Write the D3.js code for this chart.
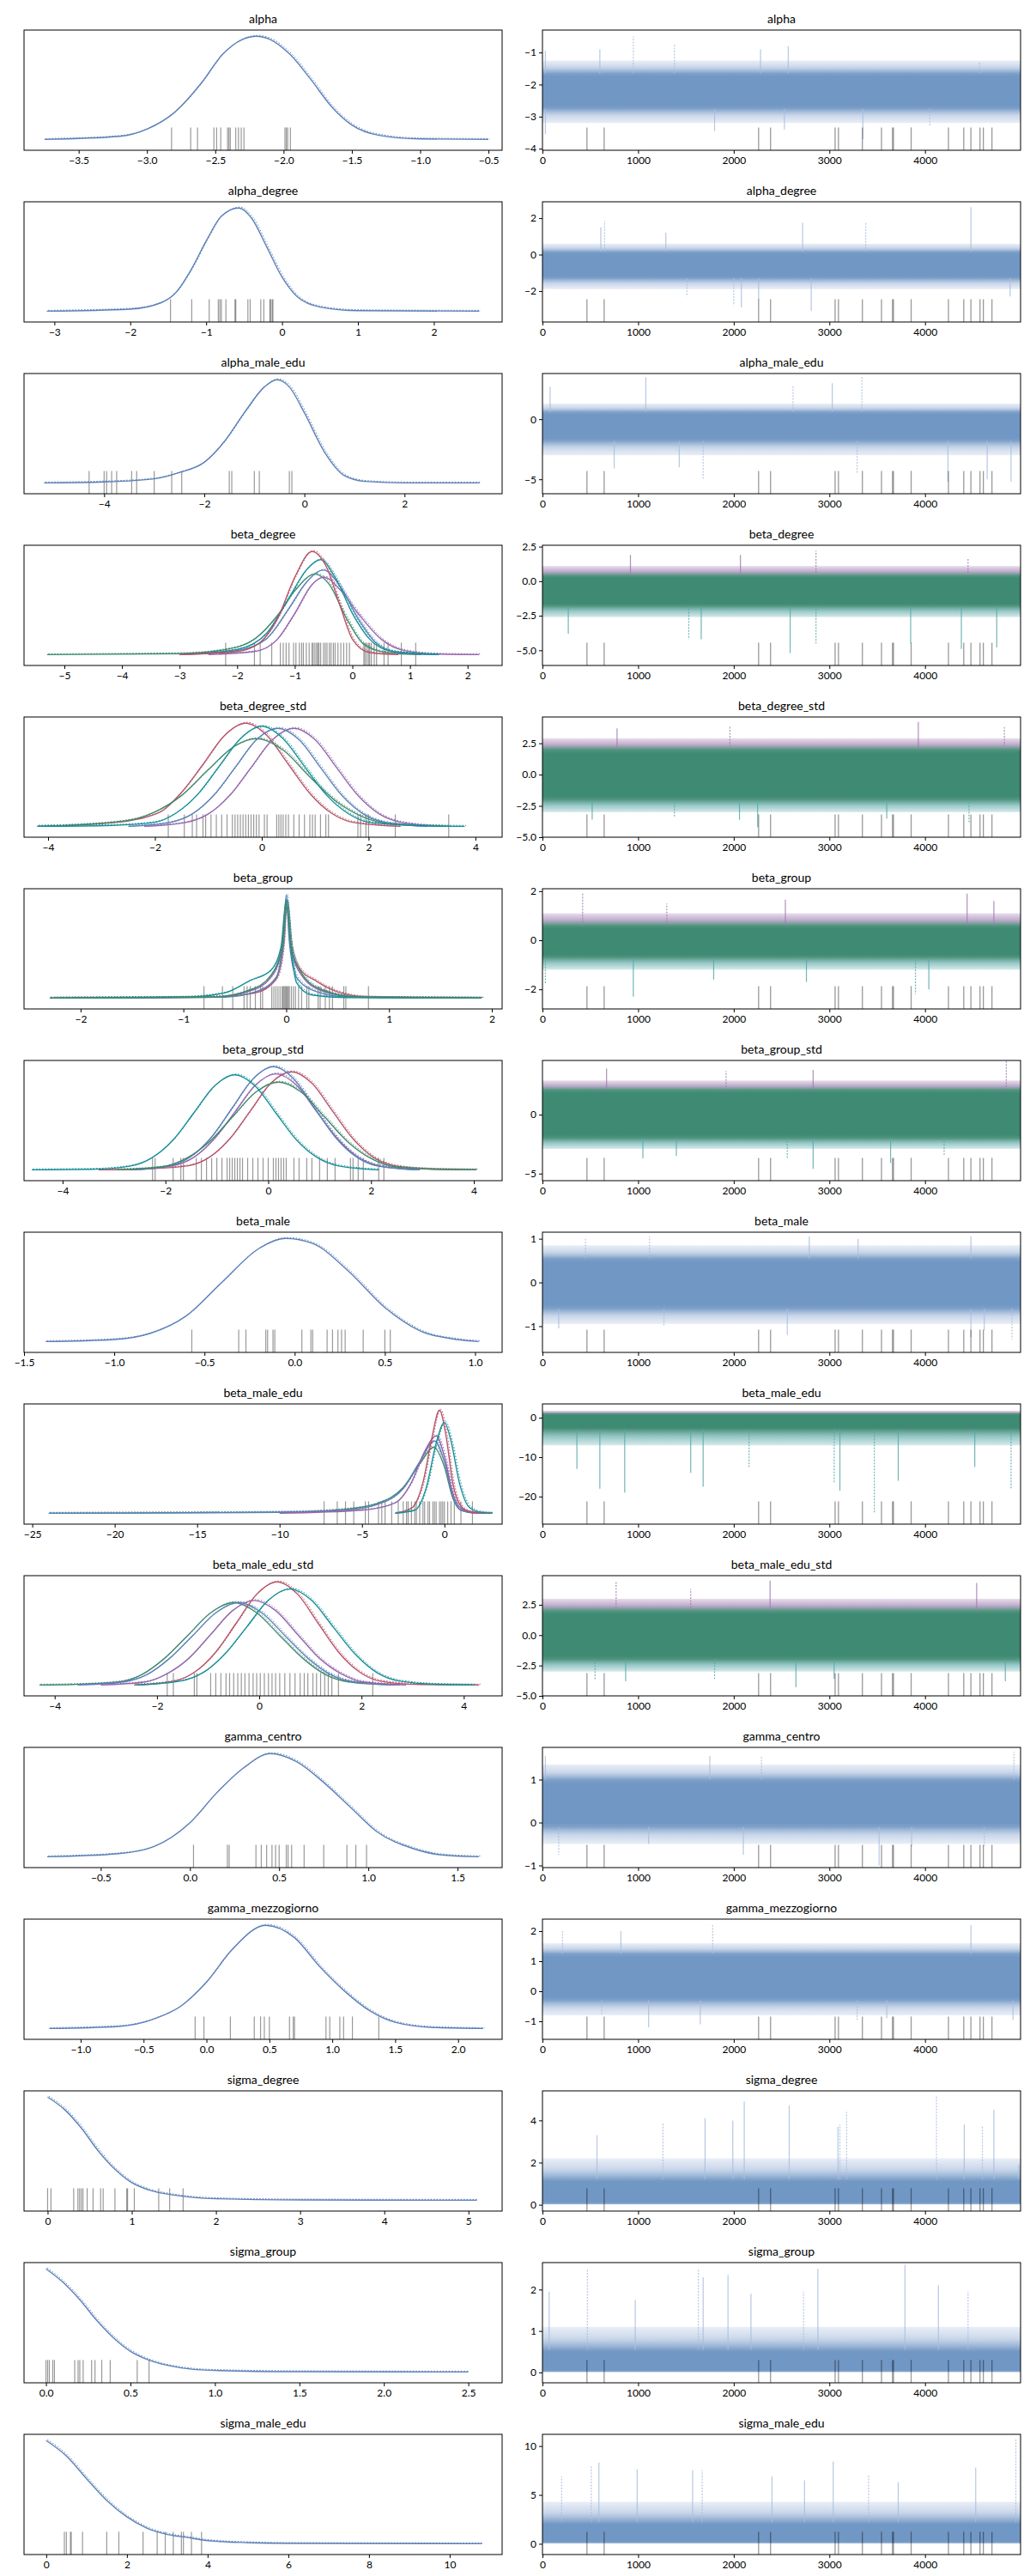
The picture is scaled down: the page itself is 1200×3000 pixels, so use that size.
<!DOCTYPE html>
<html>
<head>
<meta charset="utf-8">
<script src="https://cdn.jsdelivr.net/npm/d3@7"></script>
<style>
  body { margin: 0; background: #fff; }
  text { font-family: Lato, "Open Sans", sans-serif; }
</style>
</head>
<body>
<svg id="chart" width="1200" height="3000"></svg>
<script>
// ---- data ---------------------------------------------------------------
const names = ["alpha", "alpha_degree", "alpha_male_edu", "beta_degree", "beta_degree_std",
  "beta_group", "beta_group_std", "beta_male", "beta_male_edu", "beta_male_edu_std",
  "gamma_centro", "gamma_mezzogiorno", "sigma_degree", "sigma_group", "sigma_male_edu"];

const kdeDomains = [[-3.9, -0.4], [-3.4, 2.9], [-5.6, 3.95], [-5.7, 2.6], [-4.45, 4.5],
  [-2.55, 2.1], [-4.75, 4.55], [-1.5, 1.15], [-25.5, 3.5], [-4.6, 4.75],
  [-0.93, 1.75], [-1.45, 2.35], [-0.28, 5.4], [-0.13, 2.7], [-0.55, 11.3]];
const kdeTicks = [[-3.5, -3, -2.5, -2, -1.5, -1, -0.5], [-3, -2, -1, 0, 1, 2], [-4, -2, 0, 2],
  [-5, -4, -3, -2, -1, 0, 1, 2], [-4, -2, 0, 2, 4], [-2, -1, 0, 1, 2], [-4, -2, 0, 2, 4],
  [-1.5, -1, -0.5, 0, 0.5, 1], [-25, -20, -15, -10, -5, 0], [-4, -2, 0, 2, 4],
  [-0.5, 0, 0.5, 1, 1.5], [-1, -0.5, 0, 0.5, 1, 1.5, 2], [0, 1, 2, 3, 4, 5],
  [0, 0.5, 1, 1.5, 2, 2.5], [0, 2, 4, 6, 8, 10]];
const kdeDecimals = [1, 0, 0, 0, 0, 0, 0, 1, 0, 0, 1, 1, 0, 1, 0];

const colors = { B: "#5b80b8", R: "#b5546a", P: "#9467ad", T: "#178f98", G: "#3f8a6c" };

// relative density curves: [key of colour, [[x, y], ...]]
const kdeCurves = [
  [["B", [[-3.75,0],[-3.2,0.03],[-3,0.1],[-2.8,0.26],[-2.6,0.55],[-2.45,0.82],[-2.3,0.97],[-2.2,1],[-2.1,0.97],[-1.95,0.82],[-1.8,0.58],[-1.65,0.32],[-1.5,0.14],[-1.3,0.04],[-1.0,0.005],[-0.5,0]]]],
  [["B", [[-3.1,0],[-2,0.02],[-1.6,0.08],[-1.4,0.18],[-1.2,0.4],[-1.0,0.68],[-0.8,0.92],[-0.57,1],[-0.4,0.9],[-0.2,0.62],[0,0.33],[0.2,0.14],[0.5,0.04],[1,0.005],[2.6,0]]]],
  [["B", [[-5.2,0],[-4,0.01],[-3,0.04],[-2.5,0.1],[-2,0.2],[-1.6,0.4],[-1.2,0.68],[-0.8,0.93],[-0.55,1],[-0.3,0.93],[0,0.68],[0.4,0.3],[0.8,0.07],[1.2,0.015],[2,0],[3.5,0]]]],
  [["G", [[-5.3,0],[-3,0.01],[-2.2,0.05],[-1.7,0.15],[-1.3,0.38],[-1.0,0.62],[-0.65,0.78],[-0.4,0.68],[-0.1,0.35],[0.2,0.1],[0.6,0.02],[1.2,0]]],
   ["P", [[-2.5,0],[-1.7,0.03],[-1.3,0.15],[-1.0,0.4],[-0.7,0.68],[-0.5,0.75],[-0.2,0.62],[0.1,0.4],[0.5,0.15],[0.9,0.04],[1.5,0.005],[2.2,0]]],
   ["B", [[-3,0],[-2,0.04],[-1.5,0.15],[-1.1,0.45],[-0.8,0.7],[-0.5,0.82],[-0.2,0.65],[0.1,0.35],[0.4,0.12],[0.8,0.02],[1.5,0]]],
   ["T", [[-3,0],[-2,0.05],[-1.5,0.2],[-1.1,0.55],[-0.8,0.82],[-0.55,0.92],[-0.3,0.75],[0,0.4],[0.3,0.15],[0.7,0.03],[1.5,0]]],
   ["R", [[-3,0],[-2,0.03],[-1.6,0.12],[-1.3,0.35],[-1.0,0.75],[-0.7,1],[-0.45,0.85],[-0.2,0.45],[0,0.15],[0.3,0.02],[0.8,0]]]],
  [["R", [[-4.2,0],[-2.7,0.04],[-1.9,0.14],[-1.5,0.33],[-1.1,0.6],[-0.7,0.88],[-0.3,1],[0.1,0.88],[0.5,0.6],[0.9,0.32],[1.3,0.13],[1.7,0.04],[2.6,0]]],
   ["G", [[-4.2,0],[-2.6,0.05],[-2,0.14],[-1.5,0.3],[-1.0,0.55],[-0.5,0.78],[-0.1,0.85],[0.4,0.74],[0.9,0.48],[1.4,0.24],[1.9,0.09],[2.5,0.02],[3.5,0]]],
   ["P", [[-2.2,0],[-1.4,0.04],[-1,0.12],[-0.6,0.3],[-0.2,0.57],[0.2,0.84],[0.6,0.95],[1.0,0.84],[1.4,0.57],[1.8,0.3],[2.2,0.12],[2.6,0.04],[3.4,0]]],
   ["B", [[-2.5,0],[-1.7,0.04],[-1.3,0.12],[-0.9,0.3],[-0.5,0.57],[-0.1,0.84],[0.3,0.95],[0.7,0.84],[1.1,0.57],[1.5,0.3],[1.9,0.12],[2.3,0.04],[3.1,0]]],
   ["T", [[-4.2,0],[-2.8,0.01],[-2,0.04],[-1.6,0.13],[-1.2,0.31],[-0.8,0.58],[-0.4,0.85],[0,0.97],[0.4,0.85],[0.8,0.58],[1.2,0.31],[1.6,0.13],[2,0.04],[2.8,0.01],[3.8,0]]]],
  [["R", [[-2.3,0],[-0.7,0.01],[-0.3,0.05],[-0.1,0.18],[-0.03,0.5],[0,0.93],[0.04,0.55],[0.12,0.3],[0.3,0.16],[0.5,0.06],[0.8,0.01],[1.9,0]]],
   ["P", [[-2.3,0],[-0.7,0.01],[-0.35,0.07],[-0.15,0.2],[-0.04,0.48],[0,0.94],[0.05,0.48],[0.15,0.22],[0.35,0.07],[0.7,0.01],[1.9,0]]],
   ["B", [[-2.3,0],[-0.6,0.01],[-0.3,0.06],[-0.1,0.2],[-0.03,0.55],[0,1],[0.03,0.55],[0.1,0.2],[0.3,0.06],[0.6,0.01],[1.9,0]]],
   ["T", [[-2.25,0],[-1,0.01],[-0.6,0.05],[-0.35,0.17],[-0.15,0.27],[-0.05,0.5],[0,0.95],[0.05,0.45],[0.1,0.15],[0.25,0.03],[0.6,0.005],[1.9,0]]],
   ["G", [[-2.3,0],[-0.7,0.01],[-0.35,0.08],[-0.15,0.22],[-0.04,0.5],[0,0.94],[0.05,0.5],[0.15,0.24],[0.35,0.08],[0.7,0.01],[1.9,0]]]],
  [["R", [[-3.3,0],[-2.35,0.01],[-1.55,0.04],[-1.15,0.12],[-0.75,0.3],[-0.35,0.57],[0.05,0.84],[0.45,0.95],[0.85,0.84],[1.25,0.57],[1.65,0.3],[2.05,0.12],[2.45,0.04],[3.25,0.005],[4.05,0]]],
   ["P", [[-2.65,0],[-1.85,0.04],[-1.45,0.12],[-1.05,0.3],[-0.65,0.56],[-0.25,0.82],[0.15,0.93],[0.55,0.82],[0.95,0.56],[1.35,0.3],[1.75,0.12],[2.15,0.04],[2.95,0]]],
   ["B", [[-2.7,0],[-1.9,0.04],[-1.5,0.13],[-1.1,0.32],[-0.7,0.6],[-0.3,0.88],[0.1,1],[0.5,0.88],[0.9,0.6],[1.3,0.32],[1.7,0.13],[2.1,0.04],[2.9,0]]],
   ["G", [[-2.95,0],[-2.05,0.03],[-1.6,0.11],[-1.15,0.27],[-0.7,0.51],[-0.25,0.75],[0.2,0.85],[0.65,0.75],[1.1,0.51],[1.55,0.27],[2.0,0.11],[2.45,0.03],[3.35,0.005],[4.05,0]]],
   ["T", [[-4.6,0],[-3.45,0.005],[-2.65,0.04],[-2.25,0.12],[-1.85,0.29],[-1.45,0.55],[-1.05,0.81],[-0.65,0.92],[-0.25,0.81],[0.15,0.55],[0.55,0.29],[0.95,0.12],[1.35,0.04],[2.15,0]]]],
  [["B", [[-1.38,0],[-1.0,0.02],[-0.8,0.08],[-0.6,0.25],[-0.4,0.58],[-0.2,0.9],[-0.05,1],[0.1,0.95],[0.3,0.68],[0.5,0.33],[0.7,0.1],[0.9,0.02],[1.02,0]]]],
  [["G", [[-24,0],[-10,0.01],[-6,0.04],[-4,0.1],[-2.5,0.25],[-1.5,0.48],[-0.65,0.64],[0,0.45],[0.5,0.15],[1,0.03],[2,0],[2.9,0]]],
   ["B", [[-24,0],[-10,0.01],[-6,0.03],[-4,0.09],[-2.5,0.24],[-1.5,0.5],[-0.6,0.7],[0,0.5],[0.5,0.17],[1,0.03],[2,0]]],
   ["P", [[-10,0],[-5,0.03],[-3,0.1],[-2,0.3],[-1.2,0.6],[-0.5,0.75],[0,0.55],[0.5,0.2],[1,0.05],[2,0]]],
   ["R", [[-3,0],[-2,0.05],[-1.3,0.3],[-0.8,0.7],[-0.3,1],[0.1,0.75],[0.5,0.3],[1,0.07],[1.6,0.01],[2.8,0]]],
   ["T", [[-3,0],[-1.8,0.03],[-1.1,0.25],[-0.5,0.68],[0,0.88],[0.4,0.7],[0.9,0.3],[1.5,0.06],[2.2,0.01],[2.9,0]]]],
  [["G", [[-4.3,0],[-3.65,0.005],[-2.75,0.03],[-2.3,0.1],[-1.85,0.26],[-1.4,0.48],[-0.95,0.7],[-0.5,0.8],[-0.05,0.7],[0.4,0.48],[0.85,0.26],[1.3,0.1],[1.75,0.03],[2.65,0]]],
   ["B", [[-3.55,0],[-2.65,0.03],[-2.2,0.1],[-1.75,0.26],[-1.3,0.48],[-0.85,0.7],[-0.4,0.8],[0.05,0.7],[0.5,0.48],[0.95,0.26],[1.4,0.1],[1.85,0.03],[2.75,0]]],
   ["P", [[-3.1,0],[-2.225,0.03],[-1.8,0.11],[-1.375,0.26],[-0.95,0.49],[-0.525,0.72],[-0.1,0.82],[0.325,0.72],[0.75,0.49],[1.175,0.26],[1.6,0.11],[2.025,0.03],[2.875,0]]],
   ["R", [[-2.45,0],[-1.65,0.04],[-1.25,0.13],[-0.85,0.32],[-0.45,0.6],[-0.05,0.88],[0.35,1],[0.75,0.88],[1.15,0.6],[1.55,0.32],[1.95,0.13],[2.35,0.04],[3.15,0.005],[4.3,0]]],
   ["T", [[-2.4,0],[-1.525,0.04],[-1.1,0.12],[-0.675,0.3],[-0.25,0.56],[0.175,0.82],[0.6,0.93],[1.025,0.82],[1.45,0.56],[1.875,0.3],[2.3,0.12],[2.725,0.04],[3.575,0.005],[4.2,0]]]],
  [["B", [[-0.8,0],[-0.4,0.03],[-0.2,0.1],[0,0.33],[0.15,0.62],[0.3,0.86],[0.45,1],[0.6,0.92],[0.75,0.72],[0.9,0.48],[1.05,0.24],[1.25,0.08],[1.4,0.02],[1.62,0]]]],
  [["B", [[-1.25,0],[-0.7,0.02],[-0.4,0.1],[-0.2,0.22],[0,0.45],[0.2,0.76],[0.47,1],[0.7,0.88],[0.9,0.6],[1.1,0.36],[1.3,0.17],[1.5,0.06],[1.8,0.01],[2.2,0]]]],
  [["B", [[0,1],[0.2,0.88],[0.4,0.7],[0.6,0.48],[0.8,0.3],[1.0,0.17],[1.2,0.1],[1.5,0.05],[2,0.015],[3,0.003],[5.1,0]]]],
  [["B", [[0,1],[0.1,0.87],[0.2,0.7],[0.3,0.5],[0.4,0.33],[0.5,0.2],[0.6,0.12],[0.8,0.04],[1.0,0.015],[1.5,0.003],[2.5,0]]]],
  [["B", [[0,1],[0.5,0.85],[1,0.63],[1.5,0.42],[2,0.26],[2.5,0.15],[3,0.09],[3.5,0.06],[4,0.03],[5,0.01],[6,0.003],[10.8,0]]]]
];

const kdeRugs = [
  [-2.82,-2.68,-2.63,-2.51,-2.49,-2.46,-2.41,-2.40,-2.39,-2.35,-2.33,-2.31,-2.29,-1.99,-1.98,-1.97,-1.95],
  [-1.47,-1.19,-0.96,-0.84,-0.82,-0.8,-0.74,-0.62,-0.61,-0.45,-0.42,-0.28,-0.24,-0.16,-0.15,-0.13,-0.12],
  [-4.3,-4.0,-3.95,-3.85,-3.75,-3.45,-3.35,-3.0,-2.65,-2.45,-1.5,-1.45,-1.0,-0.9,-0.3,-0.25],
  [-2.2,-1.7,-1.6,-1.4,-1.25,-1.2,-1.15,-1.1,-1.02,-0.98,-0.92,-0.88,-0.85,-0.8,-0.75,-0.7,-0.68,-0.65,-0.62,-0.6,-0.58,-0.55,-0.5,-0.47,-0.44,-0.4,-0.37,-0.33,-0.3,-0.25,-0.2,-0.15,-0.1,-0.05,0.2,0.22,0.25,0.28,0.3,0.33,0.38,0.42,0.55,0.62,0.85,1.1],
  [-1.75,-1.45,-1.3,-1.22,-1.1,-1.05,-0.95,-0.85,-0.75,-0.65,-0.55,-0.5,-0.45,-0.4,-0.35,-0.3,-0.25,-0.2,-0.15,-0.1,-0.05,0.05,0.1,0.28,0.32,0.36,0.4,0.45,0.5,0.6,0.7,0.8,0.9,0.95,1.0,1.1,1.2,1.25,1.8,1.85,1.95,2.0,2.5,3.5],
  [-0.8,-0.62,-0.52,-0.41,-0.38,-0.35,-0.3,-0.25,-0.23,-0.14,-0.12,-0.1,-0.08,-0.06,-0.04,-0.03,-0.02,-0.01,0,0.01,0.02,0.03,0.05,0.07,0.09,0.12,0.15,0.2,0.22,0.31,0.33,0.38,0.42,0.45,0.56,0.58,0.8],
  [-2.25,-2.2,-1.85,-1.7,-1.65,-1.4,-1.3,-1.2,-1.1,-1.0,-0.9,-0.8,-0.75,-0.7,-0.65,-0.6,-0.55,-0.5,-0.4,-0.3,-0.2,-0.1,0,0.1,0.15,0.2,0.25,0.3,0.35,0.5,0.6,0.75,0.85,1.0,1.15,1.3,1.6,1.65,1.75,1.85,2.15,2.25],
  [-0.57,-0.31,-0.27,-0.16,-0.15,-0.12,-0.11,0.04,0.09,0.1,0.18,0.21,0.24,0.26,0.28,0.38,0.5,0.53],
  [-7.3,-6.5,-6.0,-5.5,-4.8,-4.6,-4,-3.8,-3.6,-3.2,-2.8,-2.5,-2.3,-2.2,-2.0,-1.8,-1.7,-1.5,-1.3,-1.2,-1.0,-0.9,-0.7,-0.6,-0.5,-0.3,-0.2,-0.1,0.0,0.2,0.4,0.6,1.0,1.7],
  [-1.8,-1.68,-1.27,-1.22,-0.95,-0.85,-0.75,-0.65,-0.58,-0.5,-0.42,-0.35,-0.28,-0.2,-0.12,-0.05,0.02,0.1,0.18,0.25,0.32,0.4,0.5,0.6,0.7,0.8,0.88,0.95,1.05,1.12,1.2,1.28,1.35,1.42,1.55,2.22],
  [0.02,0.21,0.22,0.37,0.4,0.43,0.46,0.48,0.5,0.54,0.55,0.57,0.64,0.75,0.88,0.93,0.99],
  [-0.09,-0.02,0.19,0.38,0.43,0.46,0.5,0.66,0.69,0.7,0.95,0.98,1.06,1.09,1.16,1.37],
  [0,0.04,0.31,0.36,0.38,0.4,0.42,0.47,0.54,0.63,0.66,0.8,0.94,0.95,1.03,1.32,1.45,1.61],
  [0.0,0.01,0.02,0.04,0.05,0.17,0.19,0.2,0.22,0.27,0.29,0.33,0.38,0.54,0.61],
  [0.45,0.5,0.6,0.62,0.9,1.5,1.8,2.4,2.75,2.95,3.15,3.35,3.4,3.6,3.85]
];

const iterTicks = [0, 1000, 2000, 3000, 4000];
const divergences = [465, 645, 2260, 2385, 3060, 3095, 3345, 3545, 3660, 3670, 3855, 4245, 4405, 4480, 4575, 4610, 4700];

const traceDomains = [[-4.05, -0.3], [-3.7, 2.9], [-6.2, 3.8], [-6.1, 2.6], [-5.0, 4.6],
  [-2.8, 2.1], [-5.6, 4.6], [-1.6, 1.15], [-27, 3.5], [-5.0, 4.9],
  [-1.05, 1.75], [-1.6, 2.4], [-0.3, 5.4], [-0.25, 2.65], [-1.1, 11.2]];
const traceTicks = [[-4, -3, -2, -1], [-2, 0, 2], [-5, 0], [-5, -2.5, 0, 2.5], [-5, -2.5, 0, 2.5],
  [-2, 0, 2], [-5, 0], [-1, 0, 1], [-20, -10, 0], [-5, -2.5, 0, 2.5],
  [-1, 0, 1], [-1, 0, 1, 2], [0, 2, 4], [0, 1, 2], [0, 5, 10]];
const traceDecimals = [0, 0, 0, 1, 1, 0, 0, 0, 0, 1, 0, 0, 0, 0, 0];
const multiVar = [false, false, false, true, true, true, true, false, true, true, false, false, false, false, false];

const traceCore = [[-2.75,-1.65],[-1.3,0.15],[-1.8,0.6],[-1.8,0.4],[-2.0,2.0],[-0.7,0.6],[-2.0,2.1],
  [-0.6,0.55],[-3,1],[-2.0,2.0],[-0.1,1.0],[-0.3,1.25],[0.05,1.2],[0.02,0.55],[0.1,2.2]];
const traceOuter = [[-3.2,-1.25],[-1.9,0.6],[-3,1.3],[-2.6,1.1],[-3,2.9],[-1.2,1.1],[-2.9,2.9],
  [-0.95,0.85],[-7,1.8],[-3,3],[-0.5,1.35],[-0.8,1.6],[0,2.2],[0,1.1],[0,4.3]];
const traceSpikes = [
  [[950,-0.5],[600,-0.9],[30,-0.95],[1380,-0.75],[2570,-0.8],[2280,-0.9],[4570,-1.3],[1800,-3.45],[2530,-3.4],[4050,-3.3],[30,-3.55],[3350,-3.7]],
  [[650,1.85],[610,1.5],[2720,1.75],[3380,1.8],[4480,2.6],[1290,1.2],[2000,-2.8],[2080,-2.9],[2810,-3.1],[1510,-2.3],[4890,-2.3],[2260,-2.5]],
  [[3340,3.6],[1080,3.5],[80,2.7],[2620,2.8],[3030,3.0],[1430,-4.0],[1680,-5.0],[4900,-5.2],[4240,-5.2],[3290,-4.5],[4650,-5.0],[750,-4.1]],
  [[2860,2.2],[920,1.9],[2070,1.9],[4450,1.7],[2590,-5.2],[1660,-4.2],[1530,-4.2],[4380,-4.9],[4750,-4.8],[2860,-4.5],[270,-3.8],[3850,-4.5]],
  [[1960,3.9],[3930,4.2],[780,3.7],[4830,3.8],[2250,-4.2],[2060,-3.6],[4460,-3.8],[520,-3.6],[3600,-3.5],[1380,-3.4]],
  [[420,1.9],[4440,1.9],[2540,1.65],[1300,1.5],[4720,1.6],[950,-2.3],[3900,-2.2],[4040,-2.0],[1790,-1.6],[30,-1.8],[2760,-1.7]],
  [[4850,4.6],[670,3.9],[2830,3.8],[1920,3.7],[2830,-4.6],[3640,-4.1],[2560,-3.7],[1050,-3.7],[1400,-3.5],[4200,-3.4]],
  [[1120,1.05],[2790,1.05],[4480,1.05],[450,1.0],[3300,1.0],[2560,-1.2],[4910,-1.3],[4480,-1.25],[4620,-1.1],[1270,-1.0],[170,-1.05]],
  [[3470,-24],[860,-19],[3110,-18.5],[4900,-18],[600,-18],[1680,-17.5],[3050,-16.5],[3720,-16],[1550,-14],[2160,-12.5],[360,-13],[4520,-12.5]],
  [[770,4.4],[2380,4.5],[4540,4.3],[1550,3.8],[2650,-4.3],[870,-3.8],[1800,-3.6],[4840,-3.8],[3050,-3.6],[550,-3.7]],
  [[4930,1.65],[1750,1.55],[30,1.55],[2290,1.55],[3520,-1.0],[2100,-0.75],[170,-0.75],[3860,-0.55],[1110,-0.5],[4620,-0.55]],
  [[1780,2.2],[4480,2.2],[820,2.0],[210,2.0],[1110,-1.2],[1650,-1.1],[3290,-1.0],[4920,-0.95],[3600,-0.9],[620,-0.8]],
  [[4120,5.2],[2580,4.7],[2110,4.9],[3180,4.4],[4720,4.5],[1700,4.1],[1260,3.9],[1990,4.0],[4410,3.8],[3110,3.8],[3090,3.7],[570,3.3],[4600,3.7],[4980,1.9]],
  [[1630,2.5],[2880,2.5],[3790,2.6],[470,2.5],[1680,2.3],[1940,2.35],[4450,1.95],[4140,2.1],[70,1.95],[2730,1.95],[2180,1.9],[970,1.75]],
  [[4950,10.8],[3040,8.4],[2400,6.9],[3410,7.1],[4530,7.8],[590,8.3],[510,8.0],[990,7.6],[1570,7.5],[1670,7.5],[2740,6.5],[3720,6.3],[200,6.9]]
];

// ---- layout ---------------------------------------------------------------
const rowH = 200, panelTop = 35, panelH = 140;
const leftX = [28, 585], rightX = [632, 1189];
const svg = d3.select("#chart");
const defs = svg.append("defs");

names.forEach((name, i) => {
  const y0 = i * rowH + panelTop, y1 = y0 + panelH;
  const g = svg.append("g");

  // ---- left: densities
  const x = d3.scaleLinear().domain(kdeDomains[i]).range(leftX);
  const y = d3.scaleLinear().domain([-0.105, 1.06]).range([y1, y0]);
  const line = d3.line().x(d => x(d[0])).y(d => y(d[1])).curve(d3.curveMonotoneX);

  g.append("g").selectAll("line").data(kdeRugs[i]).join("line")
    .attr("x1", d => x(d)).attr("x2", d => x(d))
    .attr("y1", y1).attr("y2", y1 - panelH * 0.19)
    .attr("stroke", "#000").attr("stroke-opacity", 0.4).attr("stroke-width", 1.2);

  kdeCurves[i].forEach(([c, pts]) => {
    g.append("path").attr("d", line(pts)).attr("fill", "none")
      .attr("stroke", colors[c]).attr("stroke-width", 1.4);
    g.append("path").attr("d", line(pts)).attr("fill", "none")
      .attr("stroke", colors[c]).attr("stroke-width", 1).attr("stroke-dasharray", "1.5,2")
      .attr("transform", "translate(1.5,-1)");
  });

  g.append("g").attr("transform", `translate(0,${y1})`)
    .call(d3.axisBottom(x).tickValues(kdeTicks[i]).tickSize(4).tickFormat(d3.format(`.${kdeDecimals[i]}f`)));

  g.append("rect").attr("x", leftX[0]).attr("y", y0)
    .attr("width", leftX[1] - leftX[0]).attr("height", panelH)
    .attr("fill", "none").attr("stroke", "#000").attr("stroke-width", 1);

  g.append("text").attr("x", (leftX[0] + leftX[1]) / 2).attr("y", y0 - 8)
    .attr("text-anchor", "middle").attr("font-size", 14).text(name);

  // ---- right: traces
  const tx = d3.scaleLinear().domain([0, 4999]).range(rightX);
  const ty = d3.scaleLinear().domain(traceDomains[i]).range([y1, y0]);
  const main = multiVar[i] ? "#3f8a72" : "#7197c4";
  const tintHi = multiVar[i] ? "#a07cb2" : "#a9bedd";
  const tintLo = multiVar[i] ? "#5aa8a8" : "#a9bedd";

  const [o0, o1] = traceOuter[i], [c0, c1] = traceCore[i];
  // soft-edged band: gradient from outer spread through the dense core
  const gid = `grad${i}`;
  const grad = defs.append("linearGradient").attr("id", gid)
    .attr("gradientUnits", "userSpaceOnUse")
    .attr("x1", 0).attr("x2", 0).attr("y1", ty(o1)).attr("y2", ty(o0));
  const span = ty(o0) - ty(o1);
  const at = v => (ty(v) - ty(o1)) / span;
  [[0, tintHi, 0.25], [at(c1) * 0.5, tintHi, 0.6], [at(c1), main, 0.9], [at(c1) + 0.05, main, 1],
   [at(c0) - 0.05, main, 1], [at(c0), main, 0.9], [(at(c0) + 1) / 2, tintLo, 0.6], [1, tintLo, 0.25]]
    .forEach(([o, c, op]) => grad.append("stop").attr("offset", Math.max(0, Math.min(1, o)))
      .attr("stop-color", c).attr("stop-opacity", op));

  const clip = `clip${i}`;
  defs.append("clipPath").attr("id", clip).append("rect")
    .attr("x", rightX[0]).attr("y", y0).attr("width", rightX[1] - rightX[0]).attr("height", panelH);
  const tg = g.append("g").attr("clip-path", `url(#${clip})`);

  tg.append("rect").attr("x", tx(0)).attr("width", tx(4999) - tx(0))
    .attr("y", ty(o1)).attr("height", span).attr("fill", `url(#${gid})`);
  tg.append("g").selectAll("line").data(traceSpikes[i]).join("line")
    .attr("x1", d => tx(d[0])).attr("x2", d => tx(d[0]))
    .attr("y1", d => ty(d[1] > c1 ? c1 : c0)).attr("y2", d => ty(d[1]))
    .attr("stroke", d => d[1] > c1 ? tintHi : tintLo).attr("stroke-width", 1.2)
    .attr("stroke-opacity", 0.85).attr("stroke-dasharray", (d, k) => k % 3 === 0 ? "2,1.5" : null);

  tg.append("g").selectAll("line").data(divergences).join("line")
    .attr("x1", d => tx(d)).attr("x2", d => tx(d))
    .attr("y1", y1).attr("y2", y1 - panelH * 0.19)
    .attr("stroke", "#000").attr("stroke-opacity", 0.4).attr("stroke-width", 1.3);

  g.append("g").attr("transform", `translate(0,${y1})`)
    .call(d3.axisBottom(tx).tickValues(iterTicks).tickSize(4).tickFormat(d3.format("d")));
  g.append("g").attr("transform", `translate(${rightX[0]},0)`)
    .call(d3.axisLeft(ty).tickValues(traceTicks[i]).tickSize(4).tickFormat(d3.format(`.${traceDecimals[i]}f`)));

  g.append("rect").attr("x", rightX[0]).attr("y", y0)
    .attr("width", rightX[1] - rightX[0]).attr("height", panelH)
    .attr("fill", "none").attr("stroke", "#000").attr("stroke-width", 1);

  g.append("text").attr("x", (rightX[0] + rightX[1]) / 2).attr("y", y0 - 8)
    .attr("text-anchor", "middle").attr("font-size", 14).text(name);
});

svg.selectAll(".domain").remove();
svg.selectAll(".tick text").attr("font-size", 12).attr("font-family", "Lato, sans-serif").attr("fill", "#000");
</script>
</body>
</html>
